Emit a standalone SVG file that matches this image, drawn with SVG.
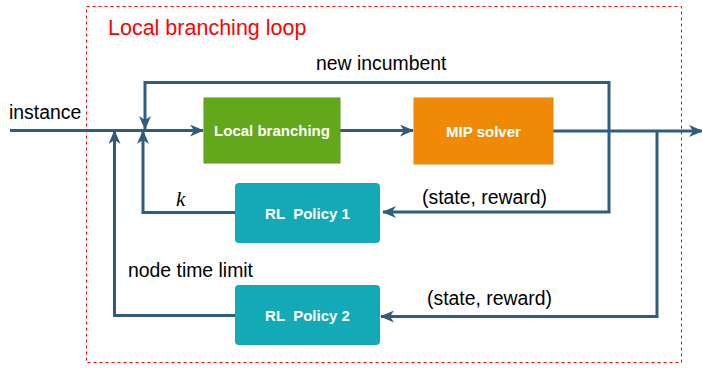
<svg xmlns="http://www.w3.org/2000/svg" width="702" height="368" viewBox="0 0 702 368">
<style>
.ln{fill:none;stroke:#2F5D80;stroke-width:3;stroke-linejoin:miter}
.lbl{font-family:"Liberation Sans",Arial,sans-serif;font-size:19.4px;fill:#000}
.nt{font-family:"Liberation Sans",Arial,sans-serif;font-size:15px;font-weight:bold;fill:#fff;text-anchor:middle}
</style>
<defs>
<marker id="ah" viewBox="0 0 14 12" refX="13" refY="6" markerWidth="14" markerHeight="12" markerUnits="userSpaceOnUse" orient="auto">
<path d="M0,0 L14,6 L0,12 L4,6 Z" fill="#2F5D80"/>
</marker>
</defs>
<rect x="86.5" y="6.5" width="595" height="356" fill="none" stroke="#FF0000" stroke-width="1" stroke-dasharray="3,3"/>
<text x="108" y="35" font-family="'Liberation Sans',Arial,sans-serif" font-size="21.5" fill="#FF0000">Local branching loop</text>
<g id="connectors">
<path class="ln" d="M10,130.5 L203,130.5" marker-end="url(#ah)"/>
<path class="ln" d="M340,130.5 L413,130.5" marker-end="url(#ah)"/>
<path class="ln" d="M553,131 L702,131" marker-end="url(#ah)"/>
<path class="ln" d="M609,131 L609,82.5 L145,82.5 L145,129" marker-end="url(#ah)"/>
<path class="ln" d="M609,131 L609,212 L383,212" marker-end="url(#ah)"/>
<path class="ln" d="M657,131 L657,316.5 L381,316.5" marker-end="url(#ah)"/>
<path class="ln" d="M235,212.5 L143,212.5 L143,131" marker-end="url(#ah)"/>
<path class="ln" d="M235,315.5 L114.5,315.5 L114.5,131" marker-end="url(#ah)"/>
</g>
<text class="lbl" x="9" y="119">instance</text>
<text class="lbl" x="316" y="70">new incumbent</text>
<text class="lbl" x="422" y="204">(state, reward)</text>
<text class="lbl" x="427" y="305">(state, reward)</text>
<text class="lbl" x="128" y="277">node time limit</text>
<text x="176" y="206" font-family="'Liberation Serif','Times New Roman',serif" font-style="italic" font-size="21" fill="#000">k</text>
<g id="local-branching">
<rect x="204" y="98" width="136" height="65" fill="#62A81A" stroke="#5A9E17" stroke-width="1"/>
<text class="nt" x="272" y="136">Local branching</text>
</g>
<g id="mip-solver">
<rect x="414" y="98" width="139" height="66" fill="#F08A06" stroke="#E8860A" stroke-width="1"/>
<text class="nt" x="483.5" y="137">MIP solver</text>
</g>
<g id="rl-policy-1">
<rect x="235" y="183" width="145" height="60" rx="4" fill="#14A9B6"/>
<text class="nt" x="307.5" y="218.5" xml:space="preserve">RL  Policy 1</text>
</g>
<g id="rl-policy-2">
<rect x="235" y="285" width="145" height="60" rx="4" fill="#14A9B6"/>
<text class="nt" x="307.5" y="320.5" xml:space="preserve">RL  Policy 2</text>
</g>
</svg>
